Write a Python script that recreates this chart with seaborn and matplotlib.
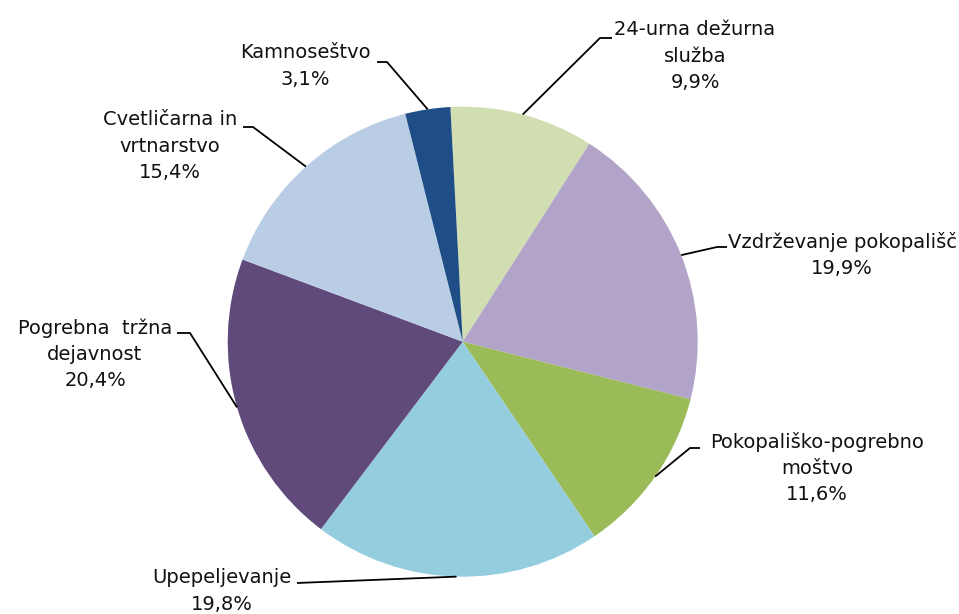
import numpy as np
import matplotlib
matplotlib.use("Agg")
import matplotlib.pyplot as plt
import seaborn as sns

categories = ["24-urna dežurna\nslužba", "Vzdrževanje pokopališč", "Pokopališko-pogrebno\nmoštvo",
              "Upepeljevanje", "Pogrebna  tržna\ndejavnost", "Cvetličarna in\nvrtnarstvo", "Kamnoseštvo"]
values = [9.9, 19.9, 11.6, 19.8, 20.4, 15.4, 3.1]
pct_labels = ["9,9%", "19,9%", "11,6%", "19,8%", "20,4%", "15,4%", "3,1%"]
colors = ["#D0DEB1", "#B2A3C8", "#9BBB59", "#93CDDE", "#604A7B", "#B9CDE5", "#1F4E86"]

sns.set_theme(style="white")
plt.rcParams['font.family'] = ['DejaVu Sans']

W, H = 959, 614
fig = plt.figure(figsize=(W / 100, H / 100), dpi=100)
ax = fig.add_axes([0, 0, 1, 1])

cx, cy, R = 462.7, H - 341.7, 235
wedges, _ = ax.pie(values, colors=colors, startangle=93, counterclock=False,
                   center=(cx, cy), radius=R, wedgeprops=dict(linewidth=0),
                   normalize=True, frame=True)
ax.set_xlim(0, W)
ax.set_ylim(0, H)
ax.set_aspect('equal')
ax.axis('off')

# layout for labels: (text center x, text center y, elbow x, elbow y, horizontal end x) in image px
layout = [
    (695, 56, 600, 38, 612),
    (842, 255, 717, 247, 727),
    (817, 468, 690, 448, 700),
    (222, 591, 297, 583, 297),
    (95, 354, 190, 333, 177),
    (170, 146, 253, 127, 243),
    (305, 66, 387, 62, 377),
]

for w, cat, pct, (tx, ty, ex, ey, hx) in zip(wedges, categories, pct_labels, layout):
    mid = np.deg2rad((w.theta1 + w.theta2) / 2)
    ax_pt = (cx + R * np.cos(mid), cy + R * np.sin(mid))
    ax.plot([ax_pt[0], ex, hx], [ax_pt[1], H - ey, H - ey], color="black", lw=1.3,
            solid_capstyle='butt', zorder=3)
    ax.text(tx, H - ty, cat + "\n" + pct, ha="center", va="center", fontsize=14,
            color="#111111", linespacing=1.47, zorder=4)

fig.savefig("out.png", dpi=100)
